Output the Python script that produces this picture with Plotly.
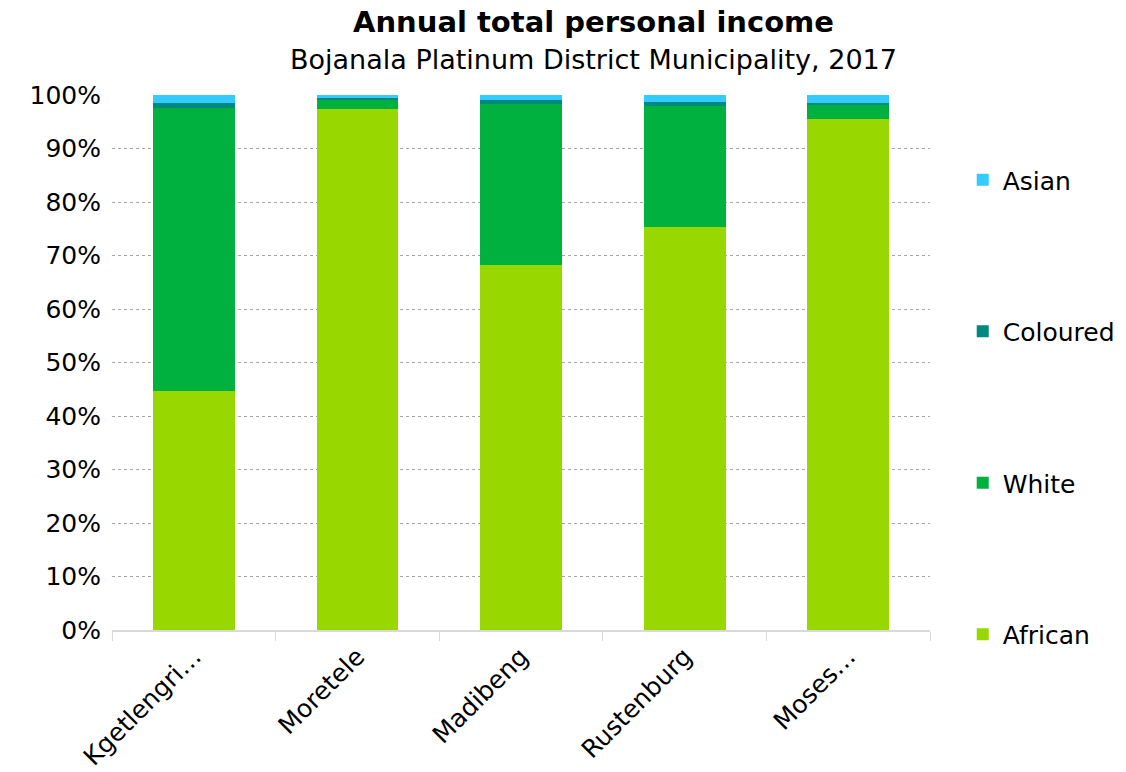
import plotly.graph_objects as go

# Municipalities in the district (labels as shown on the axis)
municipalities = ["Kgetlengri…", "Moretele", "Madibeng", "Rustenburg", "Moses…"]

# Share of annual total personal income by population group (%)
african = [44.6, 97.4, 68.2, 75.3, 95.5]
white = [52.9, 1.75, 30.05, 22.6, 2.57]
coloured = [1.05, 0.26, 0.75, 0.86, 0.43]
asian = [1.45, 0.59, 1.0, 1.24, 1.5]

# (name, values, colour, legend rank) — stacked bottom to top, listed top to bottom
series = [
    ("African", african, "#99D700", 4),
    ("White", white, "#00B140", 3),
    ("Coloured", coloured, "#00897E", 2),
    ("Asian", asian, "#33CCFF", 1),
]

FONT = "DejaVu Sans"

fig = go.Figure()
for name, vals, color, rank in series:
    fig.add_trace(go.Bar(
        x=municipalities, y=vals, name=name, legendgroup=name, legendrank=rank,
        marker=dict(color=color, line=dict(width=0)),
        hoverinfo="x+y+name",
    ))

fig.update_layout(
    barmode="stack",
    bargap=0.5,
    width=1126, height=772,
    plot_bgcolor="white", paper_bgcolor="white",
    margin=dict(l=112, r=196, t=95, b=142, autoexpand=False),
    font=dict(family=FONT, size=25, color="black"),
    showlegend=True,
    legend=dict(
        traceorder="grouped", tracegroupgap=116,
        x=1.040, xanchor="left",
        y=0.884, yanchor="top",
        font=dict(size=25), itemwidth=30,
        bgcolor="rgba(0,0,0,0)",
    ),
    annotations=[
        dict(text="<b>Annual total personal income</b>", x=0.589, y=1.1366,
             xref="paper", yref="paper", xanchor="center", yanchor="middle",
             showarrow=False, font=dict(size=29, family=FONT)),
        dict(text="Bojanala Platinum District Municipality, 2017", x=0.589, y=1.0655,
             xref="paper", yref="paper", xanchor="center", yanchor="middle",
             showarrow=False, font=dict(size=27, family=FONT)),
    ],
)

fig.update_xaxes(
    automargin=False,
    showgrid=False,
    showline=True, linecolor="#D9D9D9", linewidth=2,
    ticks="outside", tickson="boundaries", ticklen=9, tickcolor="#D9D9D9",
    tickangle=-45, tickfont=dict(size=25),
)
fig.update_yaxes(
    automargin=False,
    range=[0, 100], dtick=10, ticksuffix="%",
    showgrid=True, gridcolor="#A6A6A6", griddash="dot", gridwidth=1,
    zeroline=False, showline=False, ticks="", ticklabelstandoff=10,
    tickfont=dict(size=25),
)

fig.write_html("out.html")
